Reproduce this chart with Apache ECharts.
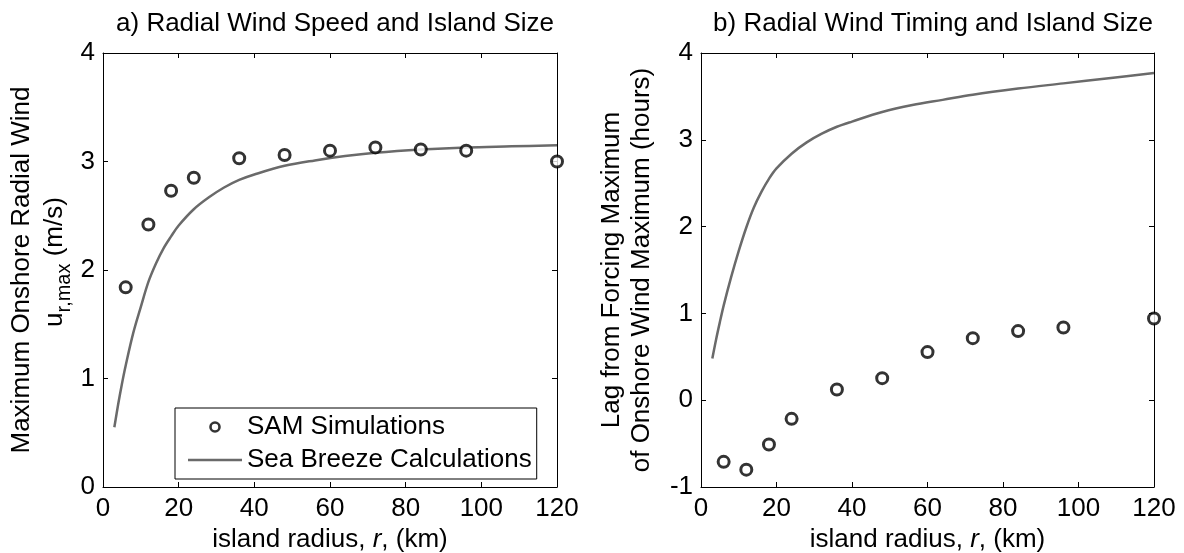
<!DOCTYPE html>
<html>
<head>
<meta charset="utf-8">
<script src="https://cdn.jsdelivr.net/npm/echarts@6/dist/echarts.min.js"></script>
<style>
html,body{margin:0;padding:0;background:#fff;}
#chart{width:1184px;height:553px;}
</style>
</head>
<body>
<div id="chart"></div>
<script>
// ---- data ----
const titleA = 'a) Radial Wind Speed and Island Size';
const titleB = 'b) Radial Wind Timing and Island Size';
const samName = 'SAM Simulations';
const breezeName = 'Sea Breeze Calculations';

const radius = [6, 12, 18, 24, 36, 48, 60, 72, 84, 96, 120];
const samSpeed = [1.84, 2.42, 2.73, 2.85, 3.03, 3.06, 3.10, 3.13, 3.11, 3.10, 3.00];
const samLag = [-0.71, -0.80, -0.51, -0.215, 0.123, 0.254, 0.554, 0.715, 0.796, 0.838, 0.942];

const curveR = [3, 4, 5, 6, 8, 10, 12, 14, 16, 18, 20, 24, 28, 32, 36, 40, 48, 56, 64, 72, 84, 96, 108, 120];
const breezeSpeed = [0.55, 0.76, 0.95, 1.12, 1.42, 1.66, 1.89, 2.06, 2.20, 2.31, 2.41, 2.56, 2.67, 2.76, 2.83, 2.88, 2.96, 3.01, 3.05, 3.08, 3.11, 3.13, 3.14, 3.15];
const breezeLag = [0.48, 0.70, 0.90, 1.09, 1.42, 1.72, 1.99, 2.22, 2.40, 2.55, 2.67, 2.84, 2.97, 3.07, 3.15, 3.21, 3.32, 3.40, 3.46, 3.52, 3.59, 3.65, 3.71, 3.77];

const xTicks = {min: 0, max: 120, interval: 20};
const yTicksA = {min: 0, max: 4, interval: 1};
const yTicksB = {min: -1, max: 4, interval: 1};

// ---- chart ----
const FONT = 'Liberation Sans, Arial, Helvetica, sans-serif';
const pair = (xs, ys) => xs.map((x, i) => [x, ys[i]]);
const chart = echarts.init(document.getElementById('chart'), null, {renderer: 'canvas'});

const axisCommon = {
  type: 'value',
  axisLine: {show: true, onZero: false, lineStyle: {color: '#000', width: 1}},
  axisTick: {show: true, inside: true, length: 5, lineStyle: {color: '#000', width: 1}},
  splitLine: {show: false},
  axisLabel: {color: '#000', fontSize: 26, fontFamily: FONT, margin: 8}
};
function xAxisFor(grid, pos, showLabel, withName) {
  const a = Object.assign({}, axisCommon, xTicks, {gridIndex: grid, position: pos});
  a.axisLabel = Object.assign({}, axisCommon.axisLabel, {show: showLabel, margin: 9});
  if (withName) {
    a.name = '{n|island radius, }{i|r}{n|, (km)}';
    a.nameLocation = 'middle';
    a.nameGap = 38;
    a.nameTextStyle = {
      color: '#000', fontSize: 26, fontFamily: FONT,
      rich: {
        n: {fontSize: 26, fontFamily: FONT, color: '#000'},
        i: {fontSize: 26, fontFamily: FONT, color: '#000', fontStyle: 'italic'}
      }
    };
  }
  return a;
}
function yAxisFor(grid, pos, showLabel, ticks) {
  const a = Object.assign({}, axisCommon, ticks, {gridIndex: grid, position: pos});
  a.axisLabel = Object.assign({}, axisCommon.axisLabel, {show: showLabel, margin: 8});
  return a;
}

const circleStyle = {color: '#fff', borderColor: '#000', borderWidth: 3};
const lineColor = '#6a6a6a';

const option = {
  animation: false,
  backgroundColor: '#fff',
  textStyle: {fontFamily: FONT},
  title: [
    {text: titleA, left: 330, top: 6, textAlign: 'center',
     textStyle: {fontSize: 26, fontWeight: 'normal', color: '#000', fontFamily: FONT}},
    {text: titleB, left: 928, top: 6, textAlign: 'center',
     textStyle: {fontSize: 26, fontWeight: 'normal', color: '#000', fontFamily: FONT}}
  ],
  grid: [
    {left: 103, top: 53, width: 454, height: 434, containLabel: false, outerBoundsMode: 'none'},
    {left: 701, top: 53, width: 453, height: 434, containLabel: false, outerBoundsMode: 'none'}
  ],
  xAxis: [
    xAxisFor(0, 'bottom', true, true),
    xAxisFor(0, 'top', false, false),
    xAxisFor(1, 'bottom', true, true),
    xAxisFor(1, 'top', false, false)
  ],
  yAxis: [
    yAxisFor(0, 'left', true, yTicksA),
    yAxisFor(0, 'right', false, yTicksA),
    yAxisFor(1, 'left', true, yTicksB),
    yAxisFor(1, 'right', false, yTicksB)
  ],
  legend: {
    orient: 'vertical',
    left: 175, top: 408,
    backgroundColor: '#fff',
    borderColor: '#000', borderWidth: 1, borderRadius: 0,
    padding: [6, 5, 6, 13],
    itemWidth: 54, itemHeight: 9, itemGap: 7,
    selectedMode: false,
    textStyle: {fontSize: 26, fontFamily: FONT, color: '#000', lineHeight: 26},
    data: [
      {name: samName, icon: 'circle', itemStyle: {color: '#fff', borderColor: '#000', borderWidth: 2.6}},
      {name: breezeName, icon: 'path://M0 0H54V2.5H0Z', itemStyle: {color: lineColor, borderWidth: 0}}
    ]
  },
  series: [
    {name: breezeName, type: 'line', xAxisIndex: 0, yAxisIndex: 0,
     data: pair(curveR, breezeSpeed), showSymbol: false, symbol: 'none', smooth: 0.35,
     lineStyle: {color: lineColor, width: 2.5}, itemStyle: {color: lineColor}, z: 2},
    {name: samName, type: 'scatter', xAxisIndex: 0, yAxisIndex: 0,
     data: pair(radius, samSpeed), symbol: 'circle', symbolSize: 11, itemStyle: circleStyle, z: 3},
    {name: breezeName, type: 'line', xAxisIndex: 2, yAxisIndex: 2,
     data: pair(curveR, breezeLag), showSymbol: false, symbol: 'none', smooth: 0.35,
     lineStyle: {color: lineColor, width: 2.5}, itemStyle: {color: lineColor}, z: 2},
    {name: samName, type: 'scatter', xAxisIndex: 2, yAxisIndex: 2,
     data: pair(radius, samLag), symbol: 'circle', symbolSize: 11, itemStyle: circleStyle, z: 3}
  ],
  graphic: [
    {type: 'text', x: 22, y: 270, rotation: Math.PI / 2,
     style: {text: 'Maximum Onshore Radial Wind', fontSize: 26, fontFamily: FONT, fill: '#000', align: 'center', verticalAlign: 'middle'}},
    {type: 'text', x: 58, y: 262, rotation: Math.PI / 2,
     style: {text: '{a|u}{s|r,max}{a| (m/s)}{p|}', fontSize: 26, fontFamily: FONT, fill: '#000', align: 'center', verticalAlign: 'middle',
       rich: {
         a: {fontSize: 26, fontFamily: FONT, fill: '#000', lineHeight: 26, verticalAlign: 'top'},
         s: {fontSize: 20, fontFamily: FONT, fill: '#000', lineHeight: 20, verticalAlign: 'bottom'},
         p: {fontSize: 10, lineHeight: 33}
       }}},
    {type: 'text', x: 612, y: 270, rotation: Math.PI / 2,
     style: {text: 'Lag from Forcing Maximum', fontSize: 26, fontFamily: FONT, fill: '#000', align: 'center', verticalAlign: 'middle'}},
    {type: 'text', x: 642, y: 270, rotation: Math.PI / 2,
     style: {text: 'of Onshore Wind Maximum (hours)', fontSize: 26, fontFamily: FONT, fill: '#000', align: 'center', verticalAlign: 'middle'}}
  ]
};
chart.setOption(option);
</script>
</body>
</html>
